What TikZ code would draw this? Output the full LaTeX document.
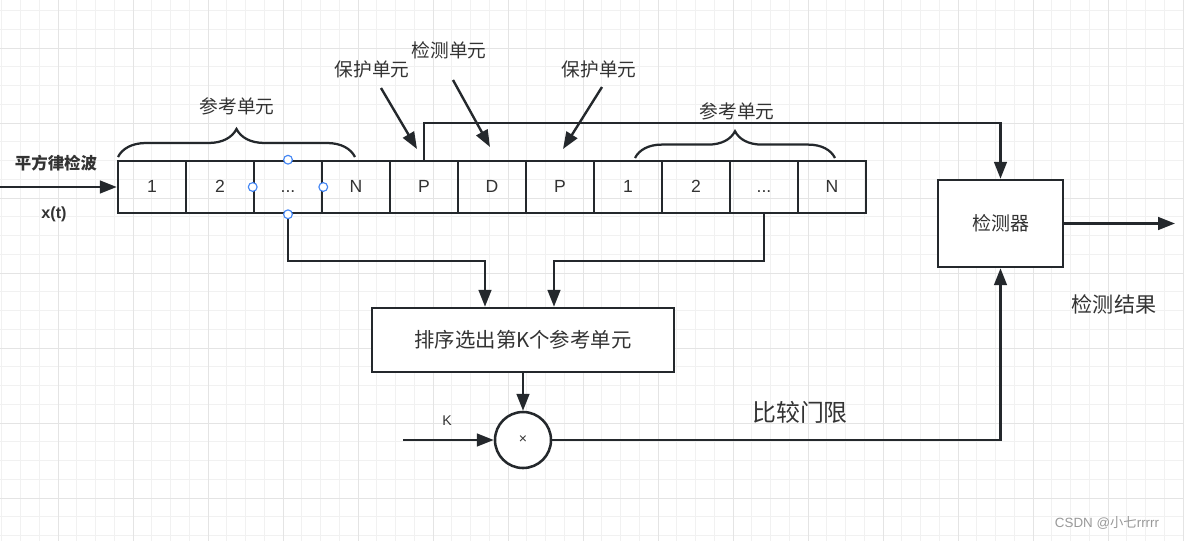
\documentclass[tikz,border=0pt]{standalone}
\usepackage{fontspec}
\setmainfont{Liberation Sans}
\newfontfamily\cjk{Noto Sans CJK SC}
\usetikzlibrary{arrows.meta, decorations.pathreplacing}
\definecolor{linec}{RGB}{36,40,44}
\definecolor{textc}{RGB}{51,51,51}
\definecolor{gridmin}{RGB}{241,241,241}
\definecolor{gridmaj}{RGB}{228,228,228}
\definecolor{handlec}{RGB}{66,133,244}
\newcommand\celldot{...}

\begin{document}
\begin{tikzpicture}[x=0.025cm, y=-0.025cm,
    wire/.style={line width=1.7pt, draw=linec},
    arr/.style={wire, -{Triangle[length=12pt, width=9pt]}},
    cell/.style={draw=linec, line width=1.8pt, minimum width=1.7cm, minimum height=1.3cm,
        inner sep=0pt, text=textc, text height=0.72em, text depth=0pt,
        font=\fontsize{12.5}{14}\selectfont},
    blk/.style={draw=linec, line width=1.8pt, fill=white, text=textc},
    lbl/.style={text=textc, inner sep=0pt, font=\cjk\fontsize{13.3}{16}\selectfont},
    brc/.style={line width=1.6pt, draw=linec, decorate, decoration={brace, amplitude=#1}},
    handle/.style={draw=handlec, fill=white, line width=0.8pt},
  ]
  \useasboundingbox (0,0) rectangle (1184,541);
  \fill[white] (0,0) rectangle (1184,541);

  % grid
  \foreach \k in {-3,...,60}
    \draw[gridmin, line width=0.6pt] (58+18.75*\k,0) -- (58+18.75*\k,541);
  \foreach \k in {-2,...,26}
    \draw[gridmin, line width=0.6pt] (0,48+18.75*\k) -- (1184,48+18.75*\k);
  \foreach \k in {0,...,15}
    \draw[gridmaj, line width=0.7pt] (58+75*\k,0) -- (58+75*\k,541);
  \foreach \k in {0,...,6}
    \draw[gridmaj, line width=0.7pt] (0,48+75*\k) -- (1184,48+75*\k);

  % cell row
  \foreach \lab [count=\i] in {1,2,\celldot,N,P,D,P,1,2,\celldot,N}
    \node[cell] (c\i) at (118+68*\i-34,187) {\lab};

  \node[blk, minimum width=3.125cm, minimum height=2.175cm,
        font=\cjk\fontsize{13.5}{16}\selectfont] (det) at (1000.5,223.5) {检测器};
  \node[blk, minimum width=7.55cm, minimum height=1.6cm,
        font=\cjk\fontsize{14.5}{17}\selectfont] (sort) at (523,340) {排序选出第K个参考单元};
  \node[blk, circle, minimum size=1.4cm, inner sep=0pt,
        font=\fontsize{10}{12}\selectfont] (mult) at (523,440) {×};

  % labels
  \node[lbl] (refl) at (237,106) {参考单元};
  \node[lbl] (refr) at (737,111) {参考单元};
  \node[lbl] (guardl) at (372,69) {保护单元};
  \node[lbl] (test) at (449,50) {检测单元};
  \node[lbl] (guardr) at (599,69) {保护单元};
  \node[lbl, font=\cjk\bfseries\fontsize{11.7}{14}\selectfont] (sq) at (56,163) {平方律检波};
  \node[lbl, font=\bfseries\fontsize{11.5}{14}\selectfont] (xt) at (54,214) {x(t)};
  \node[lbl, font=\fontsize{10}{12}\selectfont] (klab) at (447,421) {K};
  \node[lbl, font=\cjk\fontsize{17}{20}\selectfont] (thr) at (800,412) {比较门限};
  \node[lbl, font=\cjk\fontsize{15}{18}\selectfont] (res) at (1114,304) {检测结果};
  \node[text=black!40, inner sep=0pt, font=\fontsize{9.5}{11}\selectfont] (wm) at (1107,523) {CSDN @{\cjk 小七}rrrrr};

  % braces
  \draw[brc=0.7cm] (118,157) -- (355,157);
  \draw[brc=0.67cm] (635,158) -- (835,158);

  % pointers
  \coordinate (gla) at (381,88);  \coordinate (glb) at (417,149);
  \coordinate (tsa) at (453,80);  \coordinate (tsb) at (490,147);
  \coordinate (gra) at (602,87);  \coordinate (grb) at (563,149);
  \draw[arr] (gla) -- (glb);
  \draw[arr] (tsa) -- (tsb);
  \draw[arr] (gra) -- (grb);

  % signal path
  \coordinate (xin) at (0,187);
  \coordinate (top) at (1000.5,123);
  \coordinate (jl) at (485,261);
  \coordinate (jr) at (554,261);
  \coordinate (kin) at (403,440);
  \coordinate (out) at (1175,223.5);
  \draw[arr] (xin) -- (c1.west);
  \draw[arr] (c5.north) |- (top) -- (det.north);
  \draw[arr] (c3.south) |- (jl) -- (jl |- sort.north);
  \draw[arr] (c10.south) |- (jr) -- (jr |- sort.north);
  \draw[arr] (sort.south) -- (mult.north);
  \draw[arr] (kin) -- (mult.west);
  \draw[arr] (mult.east) -| (det.south);
  \draw[arr] (det.east) -- (out);

  \foreach \a in {north,south,east,west}
    \draw[handle] (c3.\a) circle[radius=0.11cm];
\end{tikzpicture}
\end{document}
